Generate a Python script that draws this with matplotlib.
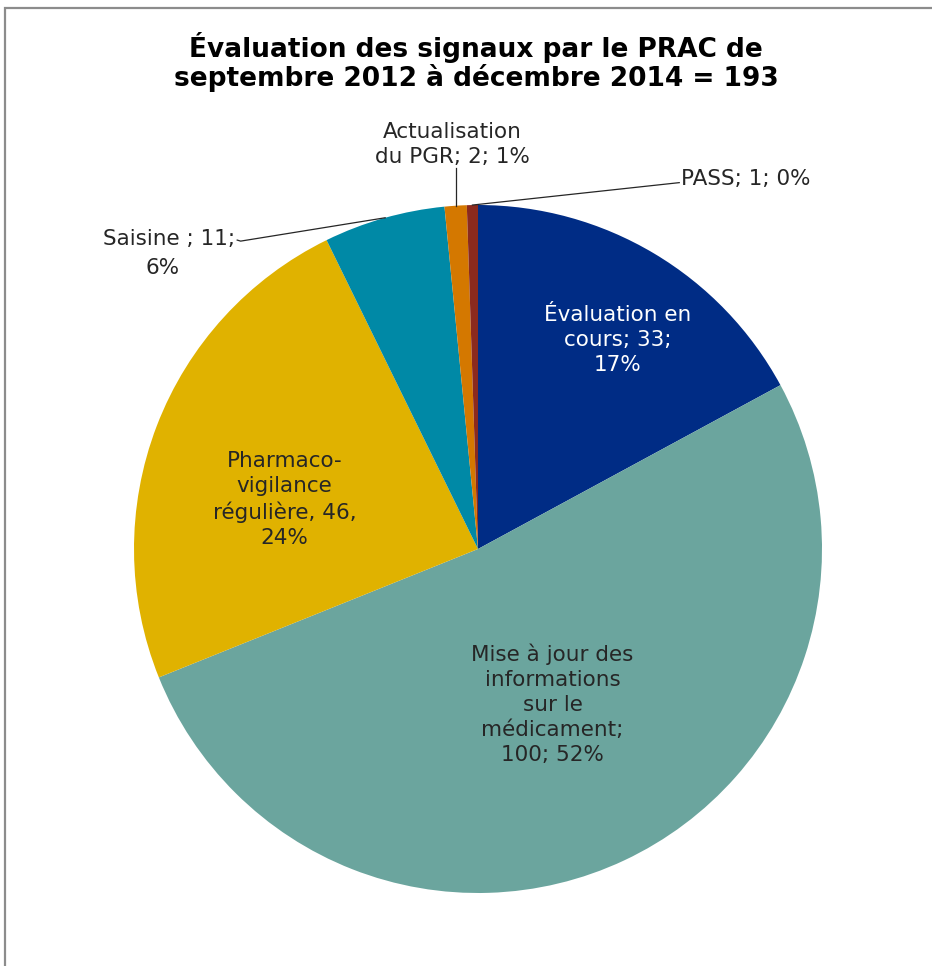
import numpy as np
import matplotlib.pyplot as plt
from matplotlib.patches import Rectangle

# données
categories = ["Évaluation en cours", "Mise à jour des informations sur le médicament",
              "Pharmacovigilance régulière", "Saisine", "Actualisation du PGR", "PASS"]
valeurs = [33, 100, 46, 11, 2, 1]
etiquettes = ["Évaluation en\ncours; 33;\n17%",
              "Mise à jour des\ninformations\nsur le\nmédicament;\n100; 52%",
              "Pharmaco-\nvigilance\nrégulière, 46,\n24%",
              "Saisine ; 11;\n6%",
              "Actualisation\ndu PGR; 2; 1%",
              "PASS; 1; 0%"]
couleurs = ["#002C85", "#6BA59E", "#E0B200", "#0089A6", "#D47800", "#8B2A1E"]
titre = "Évaluation des signaux par le PRAC de\nseptembre 2012 à décembre 2014 = 193"

W, H = 932, 966
fig = plt.figure(figsize=(W / 100, H / 100), dpi=100)

# cadre gris (coupé à droite et en bas)
fig.patches.append(Rectangle((5 / W, -0.05), 1.2, (H - 8) / H + 0.05, transform=fig.transFigure,
                             fill=False, edgecolor="#8c8c8c", linewidth=1.6))

cx, cy, r = 478, 549, 344
ax = fig.add_axes([(cx - r) / W, (H - cy - r) / H, 2 * r / W, 2 * r / H])
wedges, _ = ax.pie(valeurs, colors=couleurs, startangle=90, counterclock=False, radius=1,
                   wedgeprops=dict(linewidth=0))
ax.set_xlim(-1, 1)
ax.set_ylim(-1, 1)
ax.axis("off")

police = "DejaVu Sans"
fs = 15.5
ls = 1.32
gris = "#262626"

def polaire(ang, rr):
    a = np.deg2rad(ang)
    return rr * np.cos(a), rr * np.sin(a)

mids = [(w.theta1 + w.theta2) / 2 for w in wedges]

# étiquettes intérieures
x, y = polaire(mids[0] - 3, 0.73)
ax.text(x, y, etiquettes[0], ha="center", va="center", color="white", fontsize=fs,
        family=police, linespacing=ls)
x, y = polaire(mids[1] + 0.5, 0.50)
ax.text(x, y, etiquettes[1], ha="center", va="center", color=gris, fontsize=fs,
        family=police, linespacing=ls)
x, y = polaire(mids[2] + 6.7, 0.58)
ax.text(x, y, etiquettes[2], ha="center", va="center", color=gris, fontsize=fs,
        family=police, linespacing=ls)

# étiquettes extérieures avec traits de rappel
x0, y0 = polaire(mids[3] - 0.2, 1.0)
ax.plot([x0, -0.69, -0.70], [y0, 0.895, 0.898], color=gris, lw=0.9, clip_on=False)
ax.text(-0.705, 0.90, etiquettes[3].split("\n")[0], ha="right", va="center", color=gris,
        fontsize=fs, family=police, clip_on=False)
ax.text(-0.916, 0.818, etiquettes[3].split("\n")[1], ha="center", va="center", color=gris,
        fontsize=fs, family=police, clip_on=False)

x0, y0 = polaire(mids[4], 1.0)
ax.plot([x0, x0], [y0, 1.108], color=gris, lw=0.9, clip_on=False)
ax.text(x0 - 0.01, 1.175, etiquettes[4], ha="center", va="center", color=gris,
        fontsize=fs, family=police, linespacing=ls, clip_on=False)

x0, y0 = polaire(mids[5], 1.0)
ax.plot([x0, 0.585], [y0, 1.065], color=gris, lw=0.9, clip_on=False)
ax.text(0.59, 1.075, etiquettes[5], ha="left", va="center", color=gris,
        fontsize=fs, family=police, clip_on=False)

fig.text(476 / W, 1 - 62 / H, titre, ha="center", va="center", fontsize=19,
         fontweight="bold", family=police, linespacing=1.05)

fig.savefig("out.png", dpi=100)
